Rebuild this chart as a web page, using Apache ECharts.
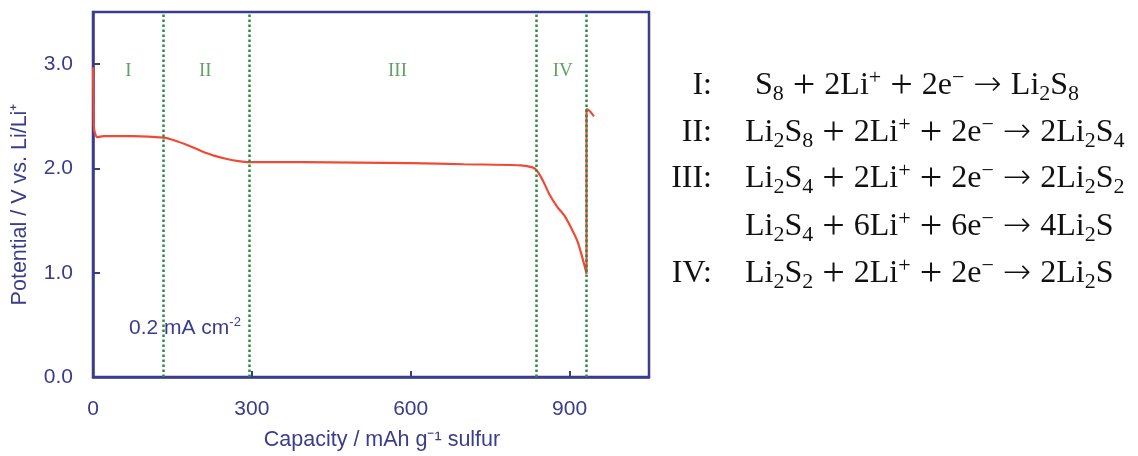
<!DOCTYPE html>
<html>
<head>
<meta charset="utf-8">
<script src="https://cdn.jsdelivr.net/npm/echarts@6/dist/echarts.min.js"></script>
<style>
  html, body { margin: 0; padding: 0; background: #fff; }
  #main { width: 1138px; height: 456px; }
</style>
</head>
<body>
<div id="main"></div>
<script>
// discharge curve, capacity (mAh/g) vs potential (V)
var capacity = [0, 1, 2, 5, 8, 20, 76, 133, 153, 180, 203, 230, 253, 275, 295, 400, 600, 700, 808, 830, 838, 850, 862, 877, 890, 902, 915, 927, 932, 932, 938, 946];
var potential = [2.97, 2.6, 2.38, 2.32, 2.30, 2.31, 2.31, 2.295, 2.27, 2.22, 2.17, 2.12, 2.09, 2.07, 2.06, 2.06, 2.05, 2.04, 2.03, 2.01, 1.98, 1.88, 1.75, 1.63, 1.55, 1.44, 1.30, 1.09, 0.99, 2.57, 2.55, 2.50];

// region boundaries and labels
var stageBounds = [133, 295, 838, 932];
var stageNames = ['I', 'II', 'III', 'IV'];
var stageLabelX = [67, 212, 575, 887];
var stageLabelY = 2.93;

var xTicks = [0, 300, 600, 900];
var yTicks = [0, 1, 2, 3];

var navy = '#3b3d8c';
var green = '#2e8b45';
var sans = 'Liberation Sans';
var serif = 'Liberation Serif';

var chart = echarts.init(document.getElementById('main'));

var curve = capacity.map(function(c, i) { return [c, potential[i]]; });
var stageLabels = stageNames.map(function(n, i) { return [stageLabelX[i], stageLabelY, n]; });

var richEq = {
    sub: { fontFamily: serif, fontSize: 22, lineHeight: 22, verticalAlign: 'bottom', fill: '#111' },
    sup: { fontFamily: serif, fontSize: 22, lineHeight: 22, verticalAlign: 'top', fill: '#111' },
    op: { fontFamily: serif, fontSize: 40, lineHeight: 38, padding: [0, 9, 0, 9], fill: '#111' },
    ar: { fontFamily: 'DejaVu Sans', fontWeight: 200, fontSize: 34, lineHeight: 38, padding: [0, 9, 0, 9], fill: '#111' }
};

function eqText(x, y, txt, align) {
    return {
        type: 'text',
        x: x,
        y: y,
        style: {
            text: txt,
            fontFamily: serif,
            fontSize: 32,
            lineHeight: 38,
            fill: '#111',
            align: align,
            verticalAlign: 'middle',
            rich: richEq
        }
    };
}

var equations = [
    eqText(712, 86, 'I:', 'right'),
    eqText(755, 86, 'S{sub|8}{op|+}2Li{sup|+}{op|+}2e{sup|\u2212}{ar|\u2192}Li{sub|2}S{sub|8}', 'left'),
    eqText(712, 133, 'II:', 'right'),
    eqText(745, 133, 'Li{sub|2}S{sub|8}{op|+}2Li{sup|+}{op|+}2e{sup|\u2212}{ar|\u2192}2Li{sub|2}S{sub|4}', 'left'),
    eqText(712, 179, 'III:', 'right'),
    eqText(745, 179, 'Li{sub|2}S{sub|4}{op|+}2Li{sup|+}{op|+}2e{sup|\u2212}{ar|\u2192}2Li{sub|2}S{sub|2}', 'left'),
    eqText(745, 227, 'Li{sub|2}S{sub|4}{op|+}6Li{sup|+}{op|+}6e{sup|\u2212}{ar|\u2192}4Li{sub|2}S', 'left'),
    eqText(712, 274, 'IV:', 'right'),
    eqText(745, 274, 'Li{sub|2}S{sub|2}{op|+}2Li{sup|+}{op|+}2e{sup|\u2212}{ar|\u2192}2Li{sub|2}S', 'left'),
    {
        type: 'text',
        x: 129,
        y: 328,
        style: {
            text: '0.2 mA cm{sup|-2}',
            fontFamily: sans,
            fontSize: 21,
            lineHeight: 24,
            fill: navy,
            verticalAlign: 'middle',
            rich: { sup: { fontFamily: sans, fontSize: 13, lineHeight: 15, verticalAlign: 'top', fill: navy } }
        }
    }
];

var option = {
    animation: false,
    grid: {
        left: 93, top: 12, width: 556, height: 365,
        show: true, borderColor: navy, borderWidth: 2.5,
        outerBoundsMode: 'none'
    },
    xAxis: {
        type: 'value', min: 0, max: 1050, interval: 300,
        name: 'Capacity / mAh g\u207B\u00B9 sulfur',
        nameLocation: 'middle', nameGap: 52,
        nameTextStyle: { color: navy, fontFamily: sans, fontSize: 21.5, padding: [0, 0, 0, 22] },
        axisLine: { lineStyle: { color: navy, width: 2.5 } },
        axisTick: { inside: true, length: 6, lineStyle: { color: navy, width: 2 } },
        axisLabel: {
            showMaxLabel: false, margin: 22, color: navy, fontFamily: sans, fontSize: 21,
            formatter: function(v) { return xTicks.indexOf(v) >= 0 ? String(v) : ''; }
        },
        splitLine: { show: false }
    },
    yAxis: {
        type: 'value', min: 0, max: 3.5, interval: 1,
        name: 'Potential / V vs. Li/Li\u207A',
        nameLocation: 'middle', nameGap: 62,
        nameTextStyle: { color: navy, fontFamily: sans, fontSize: 21.5, padding: [0, 20, 0, 0] },
        axisLine: { lineStyle: { color: navy, width: 2.5 } },
        axisTick: { inside: true, length: 7, lineStyle: { color: navy, width: 2 } },
        axisLabel: {
            showMaxLabel: false, margin: 20, color: navy, fontFamily: sans, fontSize: 21,
            formatter: function(v) { return yTicks.indexOf(v) >= 0 ? v.toFixed(1) : ''; }
        },
        splitLine: { show: false }
    },
    series: [
        {
            type: 'line',
            data: curve,
            showSymbol: false,
            smooth: 0.3,
            lineStyle: { color: '#f04a36', width: 2.2 },
            markLine: {
                silent: true,
                symbol: 'none',
                label: { show: false },
                lineStyle: { color: green, type: 'dotted', width: 2.5 },
                data: stageBounds.map(function(b) { return { xAxis: b }; })
            },
            z: 3
        },
        {
            type: 'scatter',
            data: stageLabels,
            symbolSize: 0,
            label: {
                show: true,
                position: 'inside',
                formatter: function(p) { return p.data[2]; },
                fontFamily: serif,
                fontSize: 19,
                color: '#3a8a40'
            }
        }
    ],
    graphic: equations
};

chart.setOption(option);
</script>
</body>
</html>
